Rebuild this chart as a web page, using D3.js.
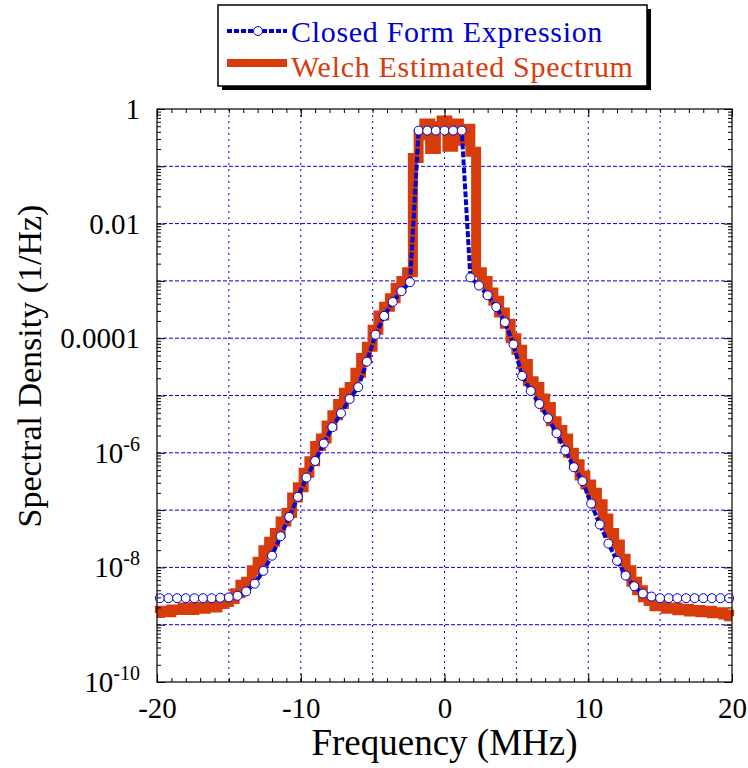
<!DOCTYPE html>
<html>
<head>
<meta charset="utf-8">
<script src="https://cdn.jsdelivr.net/npm/d3@7"></script>
<style>
  body { margin: 0; background: #fff; }
  svg { display: block; }
  text { font-family: "Liberation Serif", "Times New Roman", serif; }
</style>
</head>
<body>
<div id="chart"></div>
<script>
// Closed form expression, sampled every 0.6 MHz
const closedFreq = [
  -19.8, -19.2, -18.6, -18.0, -17.4, -16.8, -16.2, -15.6, -15.0, -14.4,
  -13.8, -13.2, -12.6, -12.0, -11.4, -10.8, -10.2, -9.6, -9.0, -8.4,
  -7.8, -7.2, -6.6, -6.0, -5.4, -4.8, -4.2, -3.6, -3.0, -2.4,
  -1.8, -1.2, -0.6, 0, 0.6, 1.2, 1.8, 2.4, 3.0, 3.6,
  4.2, 4.8, 5.4, 6.0, 6.6, 7.2, 7.8, 8.4, 9.0, 9.6,
  10.2, 10.8, 11.4, 12.0, 12.6, 13.2, 13.8, 14.4, 15.0, 15.6,
  16.2, 16.8, 17.4, 18.0, 18.6, 19.2, 19.8
];
const closedValues = [
  2.9e-9, 2.9e-9, 2.9e-9, 2.9e-9, 2.9e-9, 2.9e-9, 2.9e-9, 2.95e-9, 3.0e-9, 3.2e-9,
  3.8e-9, 5.2e-9, 8.7e-9, 1.6e-8, 3.5e-8, 7.6e-8, 1.7e-7, 3.7e-7, 7.2e-7, 1.45e-6,
  2.8e-6, 4.9e-6, 8.7e-6, 1.4e-5, 3.9e-5, 1.15e-4, 2.45e-4, 4.3e-4, 6.6e-4, 9.5e-4,
  0.42, 0.42, 0.42, 0.42, 0.42, 0.42, 1.15e-3, 8.3e-4, 5.6e-4, 3.5e-4,
  1.9e-4, 7.8e-5, 2.2e-5, 1.2e-5, 7.1e-6, 4.0e-6, 2.2e-6, 1.1e-6, 5.6e-7, 3.2e-7,
  1.3e-7, 5.6e-8, 2.6e-8, 1.3e-8, 7.2e-9, 4.7e-9, 3.5e-9, 3.1e-9, 2.9e-9, 2.9e-9,
  2.9e-9, 2.9e-9, 2.9e-9, 2.9e-9, 2.9e-9, 2.9e-9, 2.9e-9
];

// Welch estimate, read every 0.4 MHz
const welchFreq = [
  -20.0, -19.6, -19.2, -18.8, -18.4, -18.0, -17.6, -17.2, -16.8, -16.4,
  -16.0, -15.6, -15.2, -14.8, -14.4, -14.0, -13.6, -13.2, -12.8, -12.4,
  -12.0, -11.6, -11.2, -10.8, -10.4, -10.0, -9.6, -9.2, -8.8, -8.4,
  -8.0, -7.6, -7.2, -6.8, -6.4, -6.0, -5.6, -5.2, -4.8, -4.4,
  -4.0, -3.6, -3.2, -2.8, -2.4, -2.0, -1.6, -1.2, -0.8, -0.4,
  0.0, 0.4, 0.8, 1.2, 1.6, 2.0, 2.4, 2.8, 3.2, 3.6,
  4.0, 4.4, 4.8, 5.2, 5.6, 6.0, 6.4, 6.8, 7.2, 7.6,
  8.0, 8.4, 8.8, 9.2, 9.6, 10.0, 10.4, 10.8, 11.2, 11.6,
  12.0, 12.4, 12.8, 13.2, 13.6, 14.0, 14.4, 14.8, 15.2, 15.6,
  16.0, 16.4, 16.8, 17.2, 17.6, 18.0, 18.4, 18.8, 19.2, 19.6,
  20.0
];
const welchValues = [
  1.6e-9, 1.75e-9, 1.65e-9, 1.85e-9, 1.8e-9, 2.0e-9, 1.8e-9, 2.05e-9, 1.9e-9, 2.2e-9,
  2.0e-9, 2.3e-9, 2.5e-9, 2.8e-9, 3.55e-9, 5.0e-9, 5.6e-9, 8.9e-9, 1.26e-8, 2.0e-8,
  2.8e-8, 4.0e-8, 6.3e-8, 8.9e-8, 1.66e-7, 2.5e-7, 4.5e-7, 7.1e-7, 1.32e-6, 1.78e-6,
  3.0e-6, 4.5e-6, 7.1e-6, 1.12e-5, 1.41e-5, 2.5e-5, 4.5e-5, 7.1e-5, 1.41e-4, 2.5e-4,
  3.55e-4, 5.0e-4, 7.6e-4, 1.0e-3, 1.41e-3, 0.14, 0.35, 0.56, 0.2, 0.5,
  0.63, 0.22, 0.56, 0.28, 0.45, 0.18, 1.41e-3, 1.0e-3, 6.3e-4, 4.5e-4,
  2.8e-4, 1.78e-4, 1.0e-4, 6.3e-5, 3.55e-5, 1.78e-5, 1.41e-5, 8.9e-6, 6.3e-6, 3.55e-6,
  2.5e-6, 1.78e-6, 1.0e-6, 6.3e-7, 4.0e-7, 2.8e-7, 2.0e-7, 1.26e-7, 7.1e-8, 4.0e-8,
  2.5e-8, 1.41e-8, 8.9e-9, 5.6e-9, 4.0e-9, 3.0e-9, 2.6e-9, 2.1e-9, 2.2e-9, 1.9e-9,
  2.0e-9, 1.78e-9, 1.9e-9, 1.7e-9, 1.8e-9, 1.65e-9, 1.75e-9, 1.58e-9, 1.65e-9, 1.5e-9,
  1.41e-9
];

// Axis ticks and labels
const xTickValues = [-20, -10, 0, 10, 20];
const xTickLabels = ["-20", "-10", "0", "10", "20"];
const xGridValues = [-15, -10, -5, 0, 5, 10, 15];
const yTickValues = [1, 1e-2, 1e-4, 1e-6, 1e-8, 1e-10];
const yTickBase = ["1", "0.01", "0.0001", "10", "10", "10"];
const yTickExp = ["", "", "", "-6", "-8", "-10"];
const seriesNames = ["Closed Form Expression", "Welch Estimated Spectrum"];

const W = 748, H = 768;
const m = { left: 157, right: 732, top: 109, bottom: 682 };
const blue = "#0000d0", orange = "#d93c0b";

const svg = d3.select("#chart").append("svg")
  .attr("width", W)
  .attr("height", H);

const x = d3.scaleLinear().domain([-20, 20]).range([m.left, m.right]);
const y = d3.scaleLog().domain([1e-10, 1]).range([m.bottom, m.top]);

const decades = d3.range(-10, 1).map(e => Math.pow(10, e));
const yMinor = [];
decades.slice(0, -1).forEach(d => { for (let k = 2; k <= 9; k++) yMinor.push(d * k); });

// Grid
svg.append("g").selectAll("line")
  .data(xGridValues)
  .enter().append("line")
  .attr("x1", d => x(d)).attr("x2", d => x(d))
  .attr("y1", m.top).attr("y2", m.bottom)
  .attr("stroke", blue).attr("stroke-width", 1)
  .attr("stroke-dasharray", "2,4");

svg.append("g").selectAll("line")
  .data(decades.slice(1, -1))
  .enter().append("line")
  .attr("x1", m.left).attr("x2", m.right)
  .attr("y1", d => y(d)).attr("y2", d => y(d))
  .attr("stroke", blue).attr("stroke-width", 1)
  .attr("stroke-dasharray", "4,2");

// Welch estimate (thick stepped line)
const welch = welchFreq.map((f, i) => [f, welchValues[i]]);
svg.append("path")
  .datum(welch)
  .attr("fill", "none")
  .attr("stroke", orange)
  .attr("stroke-width", 10)
  .attr("stroke-linejoin", "miter")
  .attr("d", d3.line().curve(d3.curveStep).x(d => x(d[0])).y(d => y(d[1])));

// Closed form: dashed line + circles
const closed = closedFreq.map((f, i) => [f, closedValues[i]]);
svg.append("path")
  .datum(closed)
  .attr("fill", "none")
  .attr("stroke", blue)
  .attr("stroke-width", 4)
  .attr("stroke-dasharray", "6,2")
  .attr("d", d3.line().x(d => x(d[0])).y(d => y(d[1])));

svg.append("g").selectAll("circle")
  .data(closed)
  .enter().append("circle")
  .attr("cx", d => x(d[0]))
  .attr("cy", d => y(d[1]))
  .attr("r", 4.5)
  .attr("fill", "#fff")
  .attr("stroke", blue)
  .attr("stroke-width", 1);

// Axes: ticks point inward on all four sides
const noDomain = g => g.select(".domain").remove();
const xMinor = d3.range(-20, 21, 1);

svg.append("g").attr("transform", `translate(0,${m.bottom})`)
  .call(d3.axisBottom(x).tickValues(xMinor).tickSize(-4).tickFormat("")).call(noDomain);
svg.append("g").attr("transform", `translate(0,${m.top})`)
  .call(d3.axisTop(x).tickValues(xMinor).tickSize(-4).tickFormat("")).call(noDomain);

svg.append("g").attr("transform", `translate(0,${m.bottom})`)
  .call(d3.axisBottom(x).tickValues(xTickValues).tickSizeInner(-8).tickSizeOuter(0).tickPadding(15)
    .tickFormat((d, i) => xTickLabels[i]))
  .call(noDomain)
  .selectAll("text")
  .attr("font-family", "Liberation Serif, Times New Roman, serif")
  .style("font-size", "29px")
  .attr("fill", "#000");
svg.append("g").attr("transform", `translate(0,${m.top})`)
  .call(d3.axisTop(x).tickValues(xTickValues).tickSize(-8).tickFormat("")).call(noDomain);

svg.append("g").attr("transform", `translate(${m.left},0)`)
  .call(d3.axisLeft(y).tickValues(yMinor).tickSize(-4).tickFormat("")).call(noDomain);
svg.append("g").attr("transform", `translate(${m.right},0)`)
  .call(d3.axisRight(y).tickValues(yMinor).tickSize(-4).tickFormat("")).call(noDomain);
svg.append("g").attr("transform", `translate(${m.left},0)`)
  .call(d3.axisLeft(y).tickValues(decades).tickSize(-8).tickFormat("")).call(noDomain);
svg.append("g").attr("transform", `translate(${m.right},0)`)
  .call(d3.axisRight(y).tickValues(decades).tickSize(-8).tickFormat("")).call(noDomain);

// Y tick labels with superscripts
const yLab = svg.append("g").selectAll("text")
  .data(yTickValues)
  .enter().append("text")
  .attr("x", m.left - 17)
  .attr("y", d => y(d) + 10)
  .attr("text-anchor", "end")
  .style("font-size", "29px")
  .attr("fill", "#000");
yLab.append("tspan").text((d, i) => yTickBase[i]);
yLab.append("tspan")
  .attr("dy", -12)
  .style("font-size", "20px")
  .text((d, i) => yTickExp[i]);

// Frame
svg.append("rect")
  .attr("x", m.left).attr("y", m.top)
  .attr("width", m.right - m.left).attr("height", m.bottom - m.top)
  .attr("fill", "none").attr("stroke", "#000").attr("stroke-width", 1.2);

// Axis titles
svg.append("text")
  .attr("x", (m.left + m.right) / 2)
  .attr("y", 755)
  .attr("text-anchor", "middle")
  .style("font-size", "37px")
  .text("Frequency (MHz)");

svg.append("text")
  .attr("transform", `translate(41,366) rotate(-90)`)
  .attr("text-anchor", "middle")
  .style("font-size", "34px")
  .text("Spectral Density (1/Hz)");

// Legend
const lg = svg.append("g");
lg.append("rect").attr("x", 222).attr("y", 9).attr("width", 429).attr("height", 81).attr("fill", "#000");
lg.append("rect").attr("x", 218).attr("y", 5).attr("width", 429).attr("height", 81)
  .attr("fill", "#fff").attr("stroke", "#000").attr("stroke-width", 1.5);

lg.append("line").attr("x1", 227).attr("x2", 287).attr("y1", 31).attr("y2", 31)
  .attr("stroke", blue).attr("stroke-width", 4).attr("stroke-dasharray", "5,2");
lg.append("circle").attr("cx", 258).attr("cy", 31).attr("r", 4.5)
  .attr("fill", "#fff").attr("stroke", blue);
lg.append("text").attr("x", 291).attr("y", 42)
  .style("font-size", "30px").style("letter-spacing", "0.7px")
  .attr("fill", blue).text(seriesNames[0]);

lg.append("line").attr("x1", 227).attr("x2", 287).attr("y1", 63).attr("y2", 63)
  .attr("stroke", orange).attr("stroke-width", 8);
lg.append("text").attr("x", 291).attr("y", 77)
  .style("font-size", "30px").style("letter-spacing", "0.7px")
  .attr("fill", orange).text(seriesNames[1]);
</script>
</body>
</html>
